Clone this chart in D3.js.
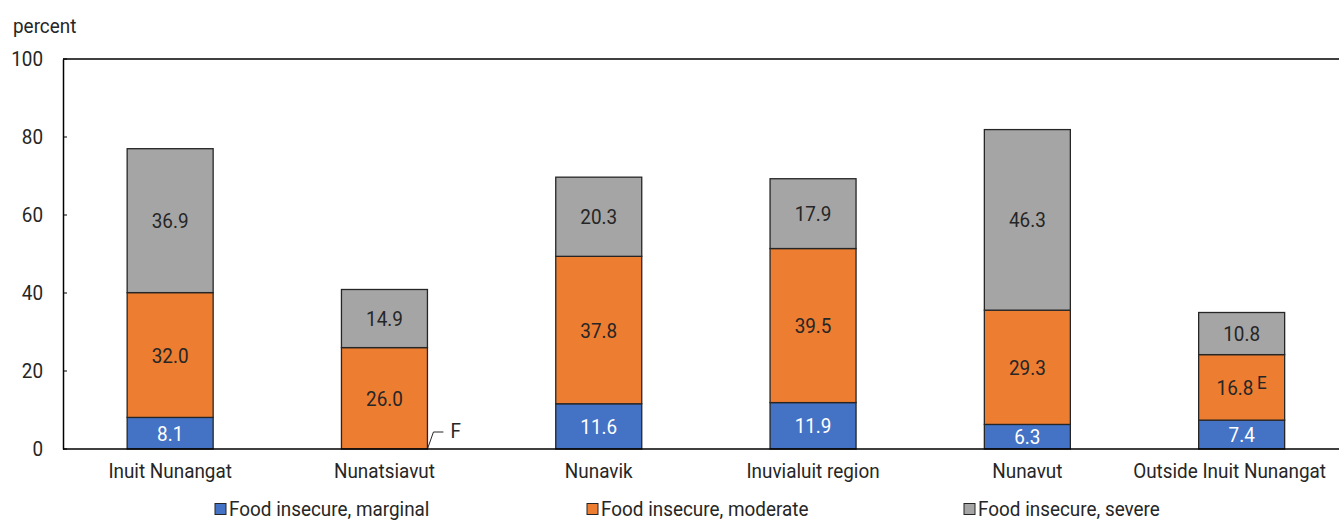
<!DOCTYPE html>
<html>
<head>
<meta charset="utf-8">
<script src="https://cdn.jsdelivr.net/npm/d3@7"></script>
<style>
  html, body { margin: 0; padding: 0; background: #fff; }
  svg { display: block; }
  text { font-family: "Roboto", "Liberation Sans", sans-serif; }
</style>
</head>
<body>
<svg id="chart" width="1339" height="521"></svg>
<script>
// Food insecurity by region, percent
const categories = ["Inuit Nunangat", "Nunatsiavut", "Nunavik", "Inuvialuit region", "Nunavut", "Outside Inuit Nunangat"];
const marginal = [8.1, null, 11.6, 11.9, 6.3, 7.4];      // null = too unreliable to publish (F)
const moderate = [32.0, 26.0, 37.8, 39.5, 29.3, 16.8];
const severe   = [36.9, 14.9, 20.3, 17.9, 46.3, 10.8];
const moderateFlags = ["", "", "", "", "", "E"];
const seriesNames = ["Food insecure, marginal", "Food insecure, moderate", "Food insecure, severe"];
const yTicks = [0, 20, 40, 60, 80, 100];

const colors = ["#4472C4", "#ED7D31", "#A5A5A5"];
const labelColors = ["#ffffff", "#262626", "#262626"];
const TEXT = "#262626";
const FS = 21;      // font size
const SX = 0.9;     // horizontal condensing of the lettering

const svg = d3.select("#chart");
const W = 1339;
const plotLeft = 63, plotTop = 59, plotBottom = 449;
const bandStep = 214.3;

const x = d3.scaleBand()
  .domain(categories)
  .range([plotLeft, plotLeft + bandStep * categories.length])
  .paddingInner(0.6)
  .paddingOuter(0.3);

const y = d3.scaleLinear().domain([0, 100]).range([plotBottom, plotTop]);

// condensed text placed at (tx, ty)
function label(parent, tx, ty, str, anchor, fill) {
  return parent.append("text")
    .attr("transform", `translate(${tx},${ty}) scale(${SX},1)`)
    .attr("text-anchor", anchor || "start")
    .attr("font-size", FS)
    .attr("fill", fill || TEXT)
    .text(str);
}

// Build stacked rows from the series arrays
const rows = categories.map((c, i) => ({
  cat: c,
  marginal: marginal[i] == null ? 0 : marginal[i],
  moderate: moderate[i],
  severe: severe[i]
}));
const keys = ["marginal", "moderate", "severe"];
const stacked = d3.stack().keys(keys)(rows);
const rawSeries = [marginal, moderate, severe];

// Top edge of the plot frame
svg.append("line")
  .attr("x1", plotLeft).attr("x2", W).attr("y1", y(100)).attr("y2", y(100))
  .attr("stroke", "#000").attr("stroke-width", 1.5);

// Bars
const barW = 86;
const g = svg.append("g");
stacked.forEach((layer, si) => {
  layer.forEach((d, i) => {
    if (rawSeries[si][i] == null) return;
    const cx = x(categories[i]) + x.bandwidth() / 2;
    const y0 = y(d[0]), y1 = y(d[1]);
    g.append("rect")
      .attr("x", cx - barW / 2)
      .attr("y", y1)
      .attr("width", barW)
      .attr("height", y0 - y1)
      .attr("fill", colors[si])
      .attr("stroke", "#262626")
      .attr("stroke-width", 1.3);
    const t = label(g, cx, (y0 + y1) / 2 + 7.5, rawSeries[si][i].toFixed(1), "middle", labelColors[si]);
    if (si === 1 && moderateFlags[i]) {
      t.append("tspan").attr("font-size", 19).attr("dx", 4).attr("dy", -6).text(moderateFlags[i]);
    }
  });
});

// "F" note for the suppressed marginal value
marginal.forEach((v, i) => {
  if (v != null) return;
  const cx = x(categories[i]) + x.bandwidth() / 2;
  const bx = cx + barW / 2;
  const by = y(0);
  svg.append("path")
    .attr("d", `M${bx},${by} L${bx + 6},${by - 17} L${bx + 16},${by - 17}`)
    .attr("fill", "none").attr("stroke", "#262626").attr("stroke-width", 1);
  label(svg, bx + 23, by - 11, "F", "start");
});

// Y axis
const yPad = 20;
const yAxis = d3.axisLeft(y).tickValues(yTicks).tickSize(0).tickPadding(yPad);
const ya = svg.append("g").attr("transform", `translate(${plotLeft},0)`).call(yAxis);
ya.select(".domain").attr("stroke", "#000").attr("stroke-width", 1.5);
ya.selectAll("text")
  .attr("font-size", FS).attr("fill", TEXT).attr("font-family", "Roboto, sans-serif")
  .attr("x", -yPad / SX)
  .attr("transform", `scale(${SX},1)`);
// inward tick marks
svg.append("g").selectAll("line").data(yTicks).join("line")
  .attr("x1", plotLeft).attr("x2", plotLeft + 4)
  .attr("y1", d => y(d)).attr("y2", d => y(d))
  .attr("stroke", "#000").attr("stroke-width", 1);

// X axis baseline and labels
const xAxis = d3.axisBottom(x).tickSize(0).tickPadding(14);
const xa = svg.append("g").attr("transform", `translate(0,${plotBottom})`).call(xAxis);
xa.select(".domain").remove();
svg.append("line")
  .attr("x1", plotLeft).attr("x2", W).attr("y1", plotBottom).attr("y2", plotBottom)
  .attr("stroke", "#000").attr("stroke-width", 1.5);
xa.selectAll("text")
  .attr("font-size", FS).attr("fill", TEXT).attr("font-family", "Roboto, sans-serif")
  .attr("transform", `scale(${SX},1)`);
// keep category labels inside the right edge
const rightLimit = W - 13;
xa.selectAll(".tick").each(function () {
  const tick = d3.select(this);
  const txt = tick.select("text");
  const box = this.getBoundingClientRect();
  if (box.right > rightLimit) {
    const shift = (box.right - rightLimit) / SX;
    txt.attr("x", -shift);
  }
});

// Y axis title
label(svg, 13, 33, "percent", "start");

// Legend
const legendX = [215, 587, 964];
seriesNames.forEach((name, i) => {
  svg.append("rect")
    .attr("x", legendX[i]).attr("y", 503.5)
    .attr("width", 11).attr("height", 11)
    .attr("fill", colors[i]).attr("stroke", "#262626").attr("stroke-width", 1);
  label(svg, legendX[i] + 14, 516.3, name, "start");
});
</script>
</body>
</html>
